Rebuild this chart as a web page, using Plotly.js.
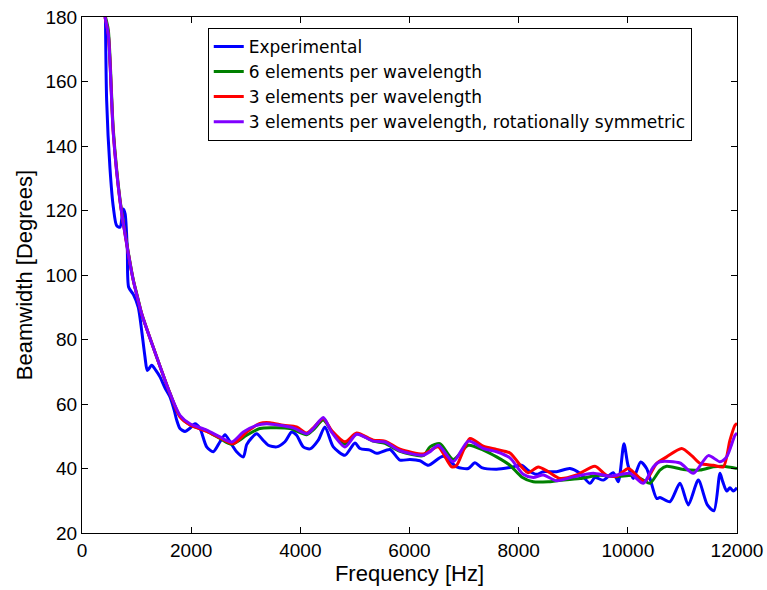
<!DOCTYPE html>
<html>
<head>
<meta charset="utf-8">
<script src="https://cdn.plot.ly/plotly-3.0.1.min.js"></script>
<style>html,body{margin:0;padding:0;background:#fff;}#chart{width:767px;height:590px;}</style>
</head>
<body>
<div id="chart"></div>
<script>
// Experimental
const expX = [430,452,513,574,635,696,757,790,830,855,940,1031,1093,1154,1197,1277,1350,1429,1520,1612,1690,1735,1795,1887,1978,2070,2162,2284,2406,2528,2620,2711,2833,2955,3017,3108,3200,3322,3413,3566,3718,3841,3932,4054,4177,4329,4451,4604,4818,5001,5093,5276,5398,5643,5826,6009,6192,6345,6620,6864,7077,7199,7322,7596,7840,8054,8176,8328,8450,8695,8939,9123,9306,9398,9550,9733,9825,9929,10003,10100,10235,10344,10405,10528,10589,10772,10955,11108,11291,11457,11578,11688,11737,11810,11871,11932,12000];
const expY = [180,154,133,121,115.3,114.8,120.5,119,108,96.2,94,90,82.8,74.6,70.4,72,70.5,68.4,65,62.2,58,55,52.4,51.5,52.5,53.9,52.4,46.7,45.2,48.3,50.5,48.3,45.2,43.6,47.4,49.5,50.8,48.7,47.2,46.7,48.3,51.3,50.3,46.7,46.1,48.8,52.9,46.7,44.1,47.9,46.2,45.7,44.7,45.9,42.6,42.8,42.4,41,43.8,40.5,40,41.8,40.3,39.8,40.3,41,39.4,38.2,39,39,40,38.5,35.4,37.2,36.4,38.7,35.9,47.7,41,36.9,42,40,37,30.7,31,29.7,35.4,28.7,36.4,28.7,26.9,38.5,36,33,34,33,34];

// 6 elements per wavelength
const sixX = [430,482,574,696,849,940,1031,1093,1368,1612,1795,1978,2284,2528,2742,3017,3260,3505,3810,4116,4237,4421,4574,4818,5032,5337,5551,5826,6253,6375,6558,6802,7077,7352,7596,7840,8054,8267,8542,8695,9123,9489,9794,10100,10283,10405,10589,10711,11016,11322,11566,11749,12000];
const sixY = [180,176,145,123.5,107,98.5,92.3,88,74.6,63.3,56.2,53.6,51.6,49.3,47.5,50.3,52.4,52.6,52.4,50.5,52,55,51.5,47.5,50.8,48.5,47.8,45.3,44,46.7,47.7,42.8,47.2,45.7,43.6,41,37.4,35.9,35.9,36.2,36.9,37.9,37.4,37.9,36.4,35.4,39.5,40.7,39.7,39.5,40.5,40.7,40];

// 3 elements per wavelength
const threeX = [420,482,574,696,849,940,1031,1093,1368,1612,1795,1978,2284,2528,2772,3017,3261,3444,3688,3932,4116,4237,4421,4574,4818,5032,5337,5551,5826,6253,6375,6528,6772,6864,7108,7352,7596,7840,8054,8176,8359,8542,8756,9062,9398,9611,9794,10008,10161,10314,10528,10711,10986,11169,11322,11566,11749,11871,11963,12000];
const threeY = [180,174.6,143.8,123,106.6,98.3,92,88,74.6,63.3,56,53.5,51.5,49.5,47.7,51.3,54,54.2,53.4,52.9,51,52.6,55.5,51.8,48.3,51,48.8,48.5,46,44.5,45.5,46.7,40.5,41,49.3,46.9,45.9,44.8,40.5,38.7,40.5,39,36.9,38,40.7,37.9,37.6,40,37.9,35.9,41.6,43.6,46.2,44,41.6,41,40.5,48.8,53.4,54];

// 3 elements per wavelength, rotationally symmetric
const rotX = [420,482,574,696,849,940,1031,1093,1368,1612,1795,1978,2284,2528,2742,2955,3200,3383,3627,3871,4116,4237,4421,4574,4818,5032,5337,5551,5826,6253,6375,6528,6802,7077,7352,7596,7840,8084,8267,8450,8695,9000,9367,9672,10039,10283,10466,10589,10955,11200,11475,11688,11810,11963,12000];
const rotY = [180,174.6,143.8,123,106.6,98.3,92,88,74.6,63.3,56.5,53.9,51.9,49.8,48.2,51.3,53.4,53.9,53.4,52.6,50.8,52.4,55.8,51.3,46.7,50.6,48.5,48.2,45.5,44.1,45.2,47.2,42.1,48.5,46.2,45.2,43.3,38.2,37.2,38,36.2,37.4,38.5,37.6,38.5,35.4,40.5,42.1,41.7,38.5,44,42.1,43.6,50.3,51];

const names = ["Experimental","6 elements per wavelength","3 elements per wavelength","3 elements per wavelength, rotationally symmetric"];
const colors = ["#0000ff","#008000","#ff0000","#8000ff"];
const xTicks = [0,2000,4000,6000,8000,10000,12000];
const yTicks = [20,40,60,80,100,120,140,160,180];
const xs = [expX, sixX, threeX, rotX];
const ys = [expY, sixY, threeY, rotY];

const FONT = 'Liberation Sans, Arial, Helvetica, sans-serif';

const traces = names.map((n,i)=>({
  x: xs[i], y: ys[i], name: n, type: 'scatter', mode: 'lines',
  line: {color: colors[i], width: 3, shape: 'spline', smoothing: 0.7}
}));

const axisCommon = {
  showline: true, linecolor: '#000', linewidth: 1, mirror: 'ticks',
  ticks: 'inside', ticklen: 6, tickcolor: '#000', tickwidth: 1,
  showgrid: false, zeroline: false,
  tickfont: {family: FONT, size: 19, color: '#000'}
};

const layout = {
  width: 767, height: 590,
  margin: {l: 82, r: 30, t: 17, b: 57},
  paper_bgcolor: '#fff', plot_bgcolor: '#fff',
  font: {family: FONT, color: '#000'},
  xaxis: Object.assign({}, axisCommon, {
    range: [0, 12000], tickvals: xTicks, ticktext: xTicks.map(String),
    title: {text: 'Frequency [Hz]', font: {family: FONT, size: 22, color: '#000'}, standoff: 0}
  }),
  yaxis: Object.assign({}, axisCommon, {
    range: [20, 180], tickvals: yTicks, ticktext: yTicks.map(String),
    title: {text: 'Beamwidth [Degrees]', font: {family: FONT, size: 22, color: '#000'}, standoff: 6}
  }),
  showlegend: true,
  legend: {
    x: 0.192, y: 0.979, xanchor: 'left', yanchor: 'top',
    bgcolor: '#fff', bordercolor: '#000', borderwidth: 1,
    font: {family: 'DejaVu Sans, sans-serif', size: 17, color: '#000'}, tracegroupgap: 0
  }
};

Plotly.newPlot('chart', traces, layout, {displayModeBar: false, staticPlot: true});
</script>
</body>
</html>
